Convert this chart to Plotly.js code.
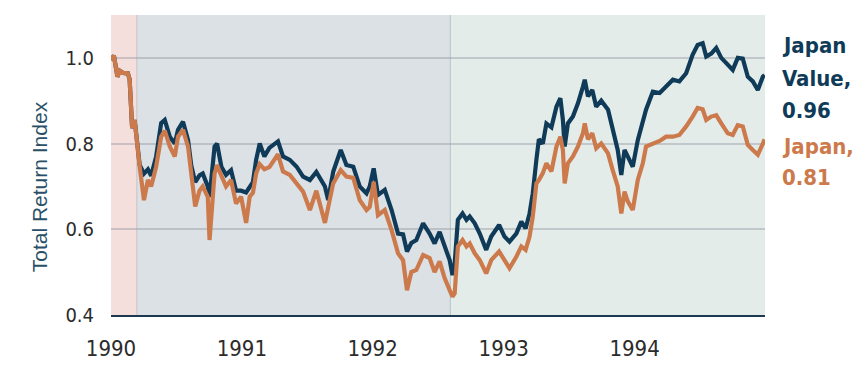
<!DOCTYPE html>
<html>
<head>
<meta charset="utf-8">
<script src="https://cdn.plot.ly/plotly-3.0.1.min.js"></script>
<style>html,body{margin:0;padding:0;background:#fff;}#chart{width:855px;height:371px;}</style>
</head>
<body>
<div id="chart"></div>
<script>
const dates = [
'1990-01-01','1990-01-09','1990-01-19','1990-01-25','1990-02-03','1990-02-17','1990-02-22','1990-02-25','1990-03-01','1990-03-08',
'1990-03-15','1990-03-22','1990-04-03','1990-04-14','1990-04-23','1990-05-07','1990-05-21','1990-05-31','1990-06-14','1990-06-28',
'1990-07-07','1990-07-21','1990-08-04','1990-08-13','1990-08-24','1990-09-05','1990-09-14','1990-09-28','1990-10-03','1990-10-17',
'1990-10-24','1990-11-05','1990-11-18','1990-12-02','1990-12-16','1990-12-30',
'1991-01-13','1991-01-23','1991-02-01','1991-02-10','1991-02-20','1991-03-05','1991-03-19','1991-04-12','1991-04-26','1991-05-15',
'1991-06-03','1991-06-21','1991-07-10','1991-07-28','1991-08-21','1991-08-30','1991-09-13','1991-10-04','1991-10-20','1991-11-08',
'1991-11-26','1991-12-15','1991-12-24',
'1992-01-04','1992-01-16','1992-02-04','1992-02-23','1992-03-12','1992-03-26','1992-04-06','1992-04-18','1992-05-02','1992-05-21',
'1992-06-08','1992-06-22','1992-07-06','1992-07-20','1992-08-03','1992-08-11','1992-08-17','1992-08-26','1992-09-08','1992-09-19',
'1992-09-28','1992-10-12','1992-10-26','1992-11-13','1992-11-27','1992-12-19',
'1993-01-03','1993-01-17','1993-02-05','1993-02-19','1993-03-03','1993-03-14','1993-03-23','1993-04-02','1993-04-09','1993-04-20',
'1993-04-30','1993-05-14','1993-05-28','1993-06-08','1993-06-15','1993-06-20','1993-06-29','1993-07-13','1993-07-27','1993-08-10',
'1993-08-15','1993-08-24','1993-09-05','1993-09-16','1993-09-30','1993-10-19','1993-11-01','1993-11-15','1993-11-25','1993-12-04',
'1993-12-13','1993-12-27',
'1994-01-10','1994-01-24','1994-02-02','1994-02-21','1994-03-12','1994-03-30','1994-04-18','1994-05-06','1994-05-25','1994-06-12',
'1994-06-26','1994-07-10','1994-07-20','1994-08-03','1994-08-17','1994-08-31','1994-09-18','1994-10-02','1994-10-16','1994-10-30',
'1994-11-13','1994-11-27','1994-12-11','1994-12-25','1994-12-30'
];
const japanValue = [
0.995,1.005,0.956,0.97,0.965,0.964,0.95,0.88,0.836,0.855,
0.81,0.75,0.73,0.74,0.725,0.77,0.848,0.855,0.816,0.80,
0.832,0.851,0.808,0.749,0.71,0.726,0.73,0.70,0.675,0.793,
0.80,0.746,0.727,0.738,0.69,0.69,
0.686,0.70,0.71,0.762,0.80,0.77,0.79,0.805,0.77,0.762,
0.746,0.723,0.715,0.734,0.70,0.668,0.734,0.785,0.75,0.746,
0.70,0.684,0.70,
0.742,0.68,0.692,0.645,0.59,0.588,0.548,0.568,0.575,0.614,
0.59,0.567,0.594,0.56,0.528,0.493,0.52,0.622,0.637,0.622,
0.63,0.614,0.59,0.552,0.583,0.61,
0.583,0.571,0.59,0.618,0.602,0.637,0.684,0.762,0.81,0.80,
0.847,0.838,0.886,0.906,0.855,0.793,0.847,0.863,0.894,0.933,
0.949,0.91,0.925,0.886,0.90,0.879,0.832,0.785,0.727,0.785,
0.77,0.746,
0.808,0.855,0.879,0.921,0.918,0.933,0.949,0.945,0.964,1.007,
1.03,1.034,1.003,1.01,1.023,1.0,0.984,0.972,1.0,0.998,
0.956,0.945,0.925,0.956,0.96
];
const japan = [
0.995,1.005,0.956,0.97,0.965,0.964,0.95,0.88,0.836,0.855,
0.81,0.746,0.668,0.715,0.70,0.746,0.816,0.83,0.793,0.77,
0.816,0.832,0.793,0.73,0.653,0.69,0.70,0.676,0.575,0.73,
0.75,0.725,0.70,0.715,0.66,0.676,
0.615,0.676,0.685,0.73,0.752,0.74,0.745,0.775,0.735,0.727,
0.707,0.688,0.645,0.69,0.615,0.652,0.707,0.738,0.723,0.72,
0.668,0.645,0.652,
0.711,0.633,0.645,0.598,0.544,0.528,0.458,0.50,0.505,0.54,
0.533,0.50,0.525,0.486,0.458,0.443,0.45,0.56,0.575,0.56,
0.567,0.544,0.528,0.497,0.528,0.548,
0.528,0.509,0.536,0.56,0.552,0.583,0.63,0.707,0.715,0.731,
0.754,0.735,0.793,0.816,0.785,0.707,0.754,0.77,0.793,0.824,
0.847,0.81,0.824,0.789,0.80,0.777,0.738,0.70,0.637,0.688,
0.665,0.645,
0.715,0.754,0.793,0.80,0.806,0.816,0.816,0.82,0.84,0.863,
0.883,0.88,0.855,0.863,0.866,0.847,0.824,0.82,0.843,0.84,
0.797,0.785,0.774,0.80,0.81
];
const yTicks = [0.4, 0.6, 0.8, 1.0];
const yTickText = ['0.4', '0.6', '0.8', '1.0'];
const xTicks = ['1990-01-01', '1991-01-01', '1992-01-01', '1993-01-01', '1994-01-01'];
const xTickText = ['1990', '1991', '1992', '1993', '1994'];
const regionStarts = ['1990-01-01', '1990-03-14', '1992-08-05'];
const regionEnds = ['1990-03-14', '1992-08-05', '1994-12-31'];
const regionColors = ['#f4dfdd', '#dbe1e5', '#e4ecea'];
const labelValue = ['Japan', 'Value,', '0.96'];
const labelJapan = ['Japan,', '0.81'];
const yTitle = 'Total Return Index';

const NAVY = '#0f3b58';
const ORANGE = '#cc7a4c';
const narrow = '"DejaVu Sans Condensed", "Liberation Sans Narrow", sans-serif';

const shapes = regionStarts.map((s, i) => ({
  type: 'rect', xref: 'x', yref: 'paper', x0: s, x1: regionEnds[i], y0: 0, y1: 1,
  fillcolor: regionColors[i], line: {width: 0}, layer: 'below'
}));
shapes.push({type:'line', xref:'x', yref:'paper', x0:regionStarts[1], x1:regionStarts[1], y0:0, y1:1, line:{color:'rgba(170,160,165,0.5)', width:1}, layer:'below'});
shapes.push({type:'line', xref:'x', yref:'paper', x0:regionStarts[2], x1:regionStarts[2], y0:0, y1:1, line:{color:'rgba(150,170,175,0.6)', width:1}, layer:'below'});

const annY1 = [0.897, 0.787, 0.683];
const annY2 = [0.563, 0.46];
const annotations = [];
labelValue.forEach((t, i) => annotations.push({
  xref:'paper', yref:'paper', x:1.023, y:annY1[i], xanchor:'left', yanchor:'middle',
  text:'<b>'+t+'</b>', showarrow:false, font:{family:narrow, size:22, color:NAVY}
}));
labelJapan.forEach((t, i) => annotations.push({
  xref:'paper', yref:'paper', x:1.023, y:annY2[i], xanchor:'left', yanchor:'middle',
  text:'<b>'+t+'</b>', showarrow:false, font:{family:narrow, size:22, color:ORANGE}
}));
annotations.push({
  xref:'paper', yref:'paper', x:-0.108, y:0.427, xanchor:'center', yanchor:'middle',
  text:yTitle, textangle:-90, showarrow:false,
  font:{family:'Liberation Sans, Arial, sans-serif', size:21, color:'#2a5068'}
});

const data = [
  {x: dates, y: japanValue, type:'scatter', mode:'lines', name:'Japan Value', line:{color:NAVY, width:4.2}},
  {x: dates, y: japan, type:'scatter', mode:'lines', name:'Japan', line:{color:ORANGE, width:4.2}}
];

const layout = {
  width: 855, height: 371,
  margin: {l:111, r:90, t:15, b:56},
  paper_bgcolor:'#ffffff', plot_bgcolor:'#ffffff',
  showlegend:false,
  shapes: shapes,
  annotations: annotations,
  xaxis: {
    type:'date', range:['1990-01-01','1994-12-31'],
    tickvals: xTicks, ticktext: xTickText,
    tickfont:{family:narrow, size:22, color:'#2b2b2b'},
    showgrid:false, zeroline:false,
    showline:true, linecolor:'#1b3a52', linewidth:2,
    ticks:'', ticklabelstandoff:13
  },
  yaxis: {
    range:[0.4, 1.1], tickvals: yTicks, ticktext: yTickText,
    tickfont:{family:narrow, size:20, color:'#2b2b2b'},
    showgrid:true, gridcolor:'rgba(150,155,165,0.45)', gridwidth:2,
    zeroline:false, showline:false, ticks:'', ticklabelstandoff:16
  }
};
Plotly.newPlot('chart', data, layout, {staticPlot:true, displayModeBar:false});
</script>
</body>
</html>
